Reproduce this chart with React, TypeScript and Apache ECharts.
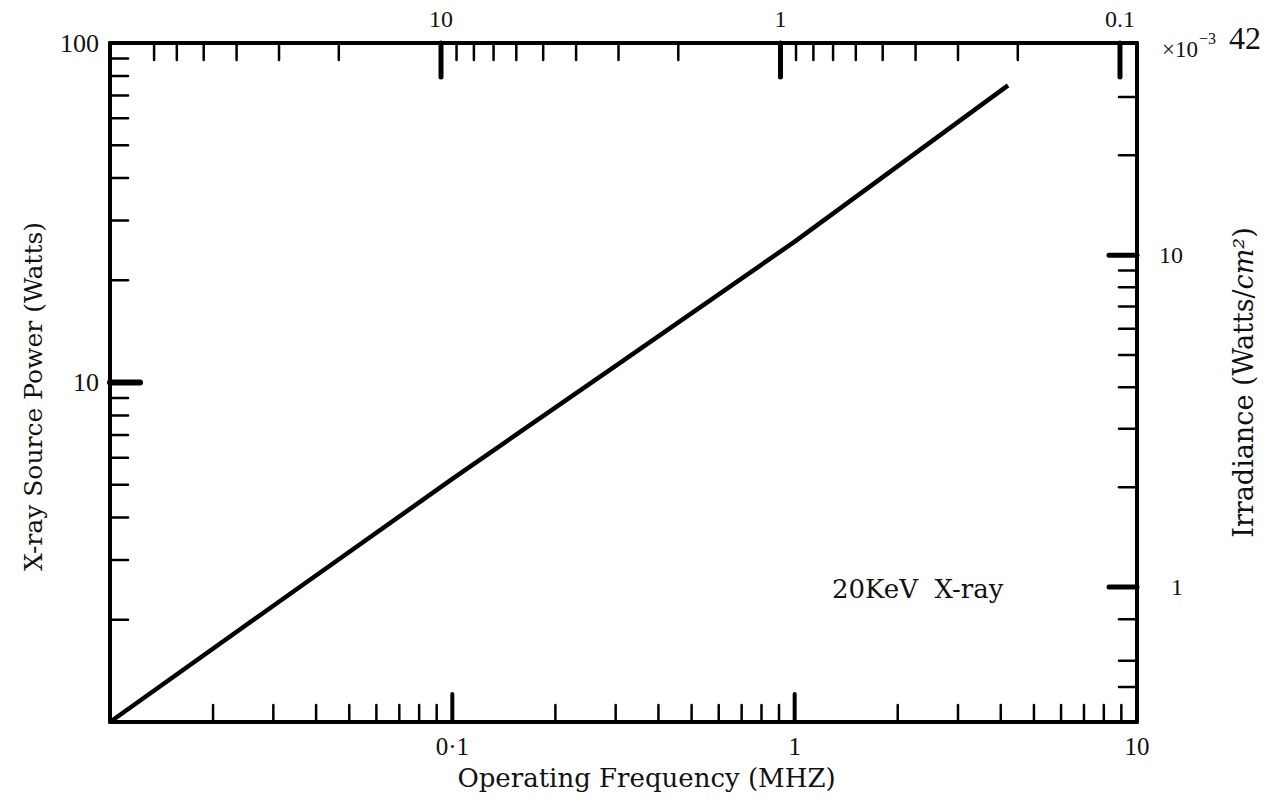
import React, { useEffect, useRef } from 'react';
import * as echarts from 'echarts';

// Line data: operating frequency (MHz) vs X-ray source power (W)
const lineFreq = [0.01, 0.03, 0.1, 0.3, 1, 4.2];
const linePower = [1.0, 2.2, 5.2, 11.2, 26, 75];

// Tick values
const bottomMinorTicks = [0.02, 0.03, 0.04, 0.05, 0.06, 0.07, 0.08, 0.09, 0.2, 0.3, 0.4, 0.5, 0.6, 0.7, 0.8, 0.9, 2, 3, 4, 5, 6, 7, 8, 9];
const bottomMajorTicks = [0.1, 1];
const topMinorTicks = [20, 30, 40, 50, 60, 70, 2, 3, 4, 5, 6, 7, 8, 9, 0.2, 0.3, 0.4, 0.5, 0.6, 0.7, 0.8, 0.9];
const topMajorTicks = [10, 1, 0.1];
const leftMinorTicks = [2, 3, 4, 5, 6, 7, 8, 9, 20, 30, 40, 50, 60, 70, 80, 90];
const leftMajorTicks = [10];
const rightMinorTicks = [0.5, 0.6, 0.8, 2, 3, 4, 5, 6, 7, 8, 9, 20, 30];
const rightMajorTicks = [1, 10];

const bottomLabels: [number, string][] = [[0.1, '0·1'], [1, '1'], [10, '10']];
const topLabels: [number, string][] = [[10, '10'], [1, '1'], [0.1, '0.1']];
const leftLabels: [number, string][] = [[10, '10'], [100, '100']];
const rightLabels: [number, string][] = [[1, '1'], [10, '10']];

const SERIF = '"Liberation Serif", "DejaVu Serif", serif';
const TITLE = '"DejaVu Serif", "Liberation Serif", serif';

const fmt = (labels: [number, string][]) => (v: number) => {
  for (const [k, s] of labels) {
    if (Math.abs(v - k) / k < 1e-4) return s;
  }
  return '';
};

type Side = 'bottom' | 'top' | 'left' | 'right';

const tickSeries = (
  values: number[], xIdx: number, yIdx: number, fixed: number,
  side: Side, len: number, width: number
) => ({
  type: 'custom',
  xAxisIndex: xIdx,
  yAxisIndex: yIdx,
  silent: true,
  clip: false,
  z: 5,
  data: values.map((v) => (side === 'bottom' || side === 'top' ? [v, fixed] : [fixed, v])),
  renderItem: (_params: any, api: any) => {
    const p = api.coord([api.value(0), api.value(1)]);
    let x2 = p[0];
    let y2 = p[1];
    if (side === 'bottom') y2 -= len;
    else if (side === 'top') y2 += len;
    else if (side === 'left') x2 += len;
    else x2 -= len;
    return {
      type: 'line',
      shape: { x1: p[0], y1: p[1], x2, y2 },
      style: { stroke: '#000', lineWidth: width, lineCap: 'round' },
    };
  },
});

const axisLine = { show: true, onZero: false, lineStyle: { color: '#000', width: 4 } };

export default function App() {
  const ref = useRef<HTMLDivElement>(null);
  useEffect(() => {
    if (!ref.current) return;
    const chart = echarts.init(ref.current, undefined, { renderer: 'svg' });
    chart.setOption({
      animation: false,
      backgroundColor: '#fff',
      grid: { left: 110, right: 138, top: 43, bottom: 84 },
      xAxis: [
        {
          type: 'log', logBase: 10, min: 0.01, max: 10, position: 'bottom',
          axisLine, axisTick: { show: false }, splitLine: { show: false },
          axisLabel: { formatter: fmt(bottomLabels), margin: 12, color: '#111', fontFamily: SERIF, fontSize: 25, showMinLabel: true, showMaxLabel: true },
          name: 'Operating Frequency (MHZ)', nameLocation: 'middle', nameGap: 43,
          nameTextStyle: { fontFamily: TITLE, fontSize: 26, color: '#111', padding: [0, 0, 0, 46] },
        },
        {
          type: 'log', logBase: 10, min: 0.0891, max: 94.4, inverse: true, position: 'top',
          axisLine, axisTick: { show: false }, splitLine: { show: false },
          axisLabel: { formatter: fmt(topLabels), margin: 12, color: '#111', fontFamily: SERIF, fontSize: 24 },
        },
      ],
      yAxis: [
        {
          type: 'log', logBase: 10, min: 1, max: 100, position: 'left',
          axisLine, axisTick: { show: false }, splitLine: { show: false },
          axisLabel: { formatter: fmt(leftLabels), margin: 11, color: '#111', fontFamily: SERIF, fontSize: 26 },
          name: 'X-ray Source Power (Watts)', nameLocation: 'middle', nameGap: 64, nameRotate: 90,
          nameTextStyle: { fontFamily: TITLE, fontSize: 25, color: '#111', padding: [0, 28, 0, 0] },
        },
        {
          type: 'log', logBase: 10, min: 0.392, max: 43.6, position: 'right',
          axisLine, axisTick: { show: false }, splitLine: { show: false },
          axisLabel: { formatter: fmt(rightLabels), margin: 46, align: 'right', color: '#111', fontFamily: SERIF, fontSize: 24 },
          name: '{n|Irradiance (Watts/}{i|cm²}{n|)}', nameLocation: 'middle', nameGap: 93, nameRotate: 90,
          nameTextStyle: {
            color: '#111',
            rich: {
              n: { fontFamily: TITLE, fontSize: 27, color: '#111' },
              i: { fontFamily: TITLE, fontSize: 27, fontStyle: 'italic', color: '#111' },
            },
          },
        },
      ],
      graphic: [
        { type: 'text', x: 1162, y: 49, style: { text: '×10', font: `23px ${SERIF}`, fill: '#111', textVerticalAlign: 'middle' } },
        { type: 'text', x: 1199, y: 38, style: { text: '−3', font: `16px ${SERIF}`, fill: '#111', textVerticalAlign: 'middle' } },
        { type: 'text', x: 1229, y: 38, style: { text: '42', font: `32px ${SERIF}`, fill: '#111', textVerticalAlign: 'middle' } },
        { type: 'text', x: 832, y: 589, style: { text: '20KeV  X-ray', font: `26px ${TITLE}`, fill: '#111', textVerticalAlign: 'middle' } },
      ],
      series: [
        {
          type: 'line', xAxisIndex: 0, yAxisIndex: 0, showSymbol: false, silent: true,
          data: lineFreq.map((f, i) => [f, linePower[i]]),
          lineStyle: { color: '#000', width: 4.5 },
          z: 6,
        },
        tickSeries(bottomMinorTicks, 0, 0, 1, 'bottom', 17, 2.5),
        tickSeries(bottomMajorTicks, 0, 0, 1, 'bottom', 28, 4),
        tickSeries(topMinorTicks, 1, 0, 100, 'top', 17, 2.5),
        tickSeries(topMajorTicks, 1, 0, 100, 'top', 34, 5),
        tickSeries(leftMinorTicks, 0, 0, 0.01, 'left', 18, 2.5),
        tickSeries(leftMajorTicks, 0, 0, 0.01, 'left', 30, 6),
        tickSeries(rightMinorTicks, 0, 1, 10, 'right', 18, 2.5),
        tickSeries(rightMajorTicks, 0, 1, 10, 'right', 28, 5),
      ],
    });
    return () => chart.dispose();
  }, []);
  return <div ref={ref} style={{ position: 'fixed', left: 0, top: 0, width: 1275, height: 806 }} />;
}
